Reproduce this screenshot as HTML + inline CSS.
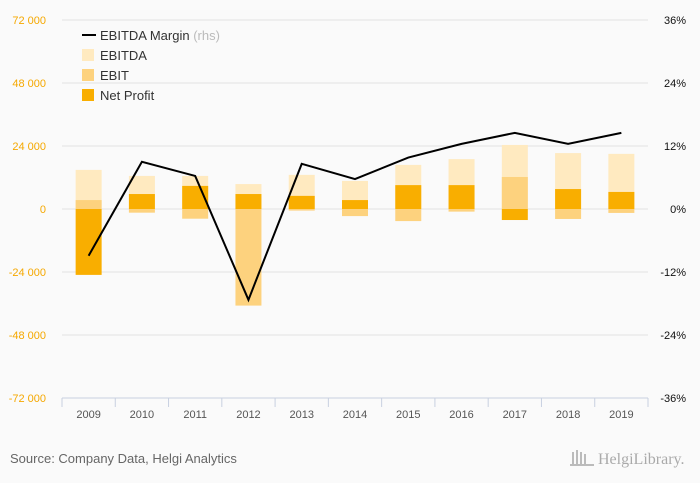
<!DOCTYPE html>
<html><head><meta charset="utf-8"><style>
body{margin:0;background:#fafafa;font-family:"Liberation Sans",sans-serif;}
svg{display:block}
</style></head><body>
<svg id="c" width="700" height="483" xmlns="http://www.w3.org/2000/svg">
<rect width="700" height="483" fill="#fafafa"/>
<g id="grid"></g><g id="bars"></g><g id="line"></g><g id="axes"></g>
<g font-size="13" fill="#333">
<line x1="82" y1="35" x2="96" y2="35" stroke="#000" stroke-width="2"/>
<text x="100" y="40">EBITDA Margin <tspan fill="#bbb">(rhs)</tspan></text>
<rect x="82" y="49" width="12" height="12" fill="#ffeac0"/>
<text x="100" y="60">EBITDA</text>
<rect x="82" y="69" width="12" height="12" fill="#fdd27e"/>
<text x="100" y="80">EBIT</text>
<rect x="82" y="89" width="12" height="12" fill="#f9ae00"/>
<text x="100" y="100">Net Profit</text>
</g>
<text x="10" y="463" font-size="13" fill="#666">Source: Company Data, Helgi Analytics</text>
<text x="598" y="464" font-size="16" fill="#aaa" font-family="Liberation Serif,serif">HelgiLibrary.</text>
<g fill="#bbb"><rect x="572" y="452" width="2" height="12"/><rect x="576" y="450" width="2" height="14"/><rect x="580" y="452" width="2" height="12"/><rect x="584" y="454" width="2" height="10"/><rect x="570" y="464" width="24" height="2"/></g>
</svg>
<script>
const years=["2009","2010","2011","2012","2013","2014","2015","2016","2017","2018","2019"];
const ebitda=[14900,12600,12600,9500,13000,10700,16800,19000,24400,21300,21000];
const ebit=[3400,-1400,-3700,-36800,-600,-2700,-4600,-1000,12200,-3800,-1500];
const netProfit=[-25100,5700,8800,5700,5000,3400,9100,9100,-4200,7600,6500];
const margin=[-8.9,9.0,6.3,-17.3,8.6,5.7,9.8,12.4,14.5,12.4,14.5];
const leftTicks=[72000,48000,24000,0,-24000,-48000,-72000];
const rightTicks=["36%","24%","12%","0%","-12%","-24%","-36%"];
const NS="http://www.w3.org/2000/svg";
const X0=62,X1=648,Y0=20,Y1=398;
const step=(X1-X0)/years.length;
const yL=v=>209-(v/72000)*(Y1-209);
const yR=p=>209-(p/36)*(Y1-209);
const xC=i=>X0+step*(i+0.5);
function mk(tag,attrs,parent){const e=document.createElementNS(NS,tag);for(const k in attrs)e.setAttribute(k,attrs[k]);document.getElementById(parent).appendChild(e);return e;}
leftTicks.forEach((t,i)=>{
 const y=yL(t);
 if(i<leftTicks.length-1){const g=mk("line",{x1:X0,x2:X1,y1:y,y2:y,stroke:"#e2e2e2"},"grid");
 
 }
 const l=mk("text",{x:46,y:y+4,"font-size":"11","text-anchor":"end",fill:"#f5a800"},"axes");
 l.textContent=(t<0?"-":"")+(Math.abs(t)>=1000?Math.floor(Math.abs(t)/1000)+" 000":"0");
 
 
 const r=mk("text",{x:686,y:y+4,"font-size":"11","text-anchor":"end",fill:"#111"},"axes");
 r.textContent=rightTicks[i];
 
 
});
const ax=mk("line",{x1:X0,x2:X1,y1:Y1,y2:Y1,stroke:"#c8d0e0"},"axes");


for(let i=0;i<=years.length;i++){const t=mk("line",{x1:X0+step*i,x2:X0+step*i,y1:Y1,y2:Y1+9,stroke:"#c8d0e0"},"axes");
 
 }
years.forEach((yr,i)=>{const t=mk("text",{x:xC(i),y:418,"font-size":"11","text-anchor":"middle",fill:"#555"},"axes");t.textContent=yr;
 
 });
const bw=26;
function bar(v,i,col,name){const a=yL(0),b=yL(v);const r=mk("rect",{x:xC(i)-bw/2,y:Math.min(a,b),width:bw,height:Math.abs(a-b),fill:col},"bars");
 
 }
years.forEach((y,i)=>{bar(ebitda[i],i,"#ffeac0","bar-ebitda-"+y);bar(ebit[i],i,"#fdd27e","bar-ebit-"+y);bar(netProfit[i],i,"#f9ae00","bar-net-profit-"+y);});
const pl=mk("polyline",{points:margin.map((m,i)=>xC(i)+","+yR(m)).join(" "),fill:"none",stroke:"#000","stroke-width":"2"},"line");


</script>
</body></html>
